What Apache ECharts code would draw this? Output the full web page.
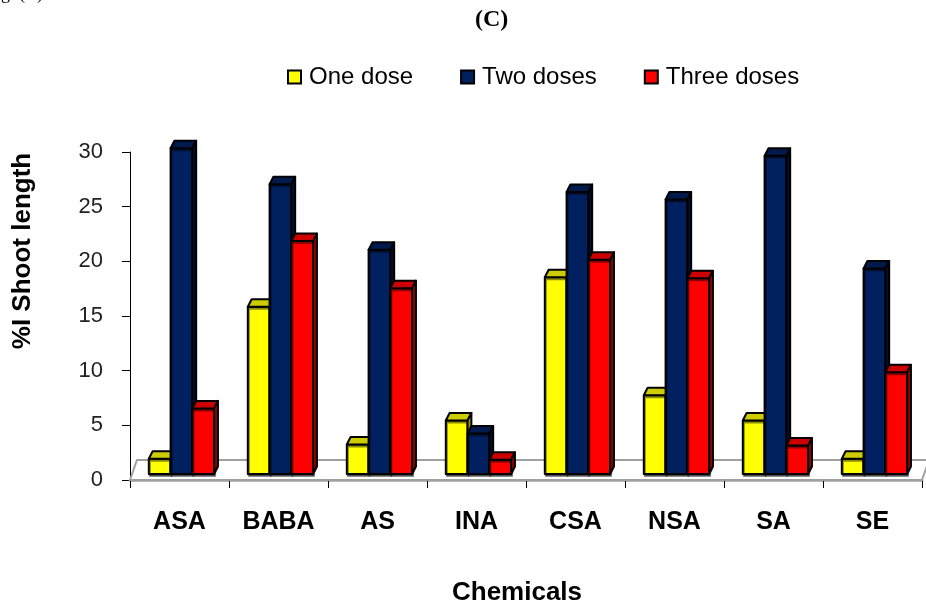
<!DOCTYPE html>
<html>
<head>
<meta charset="utf-8">
<script src="https://cdn.jsdelivr.net/npm/echarts@6/dist/echarts.min.js"></script>
<style>
  html, body { margin: 0; padding: 0; background: #fff; }
  #shoot_chart { width: 926px; height: 611px; }
</style>
</head>
<body>
<div id="shoot_chart"></div>
<script>
var chemicals = ['ASA', 'BABA', 'AS', 'INA', 'CSA', 'NSA', 'SA', 'SE'];
var oneDose = [1.4, 15.3, 2.7, 4.9, 18.0, 7.2, 4.9, 1.4];
var twoDoses = [29.8, 26.5, 20.5, 3.7, 25.8, 25.1, 29.1, 18.8];
var threeDoses = [6.0, 21.3, 17.0, 1.3, 19.6, 17.9, 2.6, 9.3];
var seriesNames = ['One dose', 'Two doses', 'Three doses'];

// fake 3d column, like the old excel charts
var makeBar = function (slot, front, top, side) {
  return function (params, api) {
    var idx = api.value(0);
    var base = api.coord([idx, 0]);
    var peak = api.coord([idx, api.value(1)]);
    var band = api.size([1, 0])[0];
    var w = band * 0.22;
    var x = base[0] + band * (-0.31 + slot * 0.22);
    var lift = 6, dx = 3.8, dy = 7.5;
    var b = base[1] - lift, t = peak[1] - lift;
    var edge = { stroke: '#000', lineWidth: 2, lineJoin: 'round' };
    return {
      type: 'group',
      children: [{
        type: 'rect',
        shape: { x: x, y: t, width: w, height: b - t },
        style: Object.assign({ fill: front, shadowColor: 'rgba(0,0,0,0.45)', shadowOffsetX: 1, shadowOffsetY: 2 }, edge)
      }, {
        type: 'polygon',
        shape: { points: [[x, t], [x + dx, t - dy], [x + w + dx, t - dy], [x + w, t]] },
        style: Object.assign({ fill: top }, edge)
      }, {
        type: 'polygon',
        shape: { points: [[x + w, t], [x + w + dx, t - dy], [x + w + dx, b - dy], [x + w, b]] },
        style: Object.assign({ fill: side }, edge)
      }]
    };
  };
};

var pairs = function (vals) {
  return vals.map(function (v, i) { return [i, v]; });
};

var floorRender = function (params, api) {
  var cs = params.coordSys;
  var y0 = cs.y + cs.height;
  return {
    type: 'polygon',
    silent: true,
    shape: { points: [[cs.x, y0], [cs.x + 7, y0 - 20], [cs.x + cs.width + 7, y0 - 20], [cs.x + cs.width, y0]] },
    style: { fill: 'none', stroke: '#a0a0a0', lineWidth: 2 }
  };
};

var myChart = echarts.init(document.getElementById('shoot_chart'));
var option = {
  animation: false,
  textStyle: { fontFamily: '"Liberation Sans", Arial, sans-serif' },
  graphic: [{
    type: 'text', x: -14, y: -15,
    style: { text: 'Fig. (C)', font: '18px "Liberation Serif"', fill: '#000' }
  }, {
    type: 'text', x: 475, y: 8,
    style: { text: '(C)', font: 'bold 24px "Liberation Serif"', fill: '#000' }
  }, {
    type: 'text', x: 23, y: 251, rotation: Math.PI / 2,
    style: { text: '%I Shoot length', font: 'bold 26px "Liberation Sans"', fill: '#000', align: 'center', verticalAlign: 'middle' }
  }],
  legend: {
    data: seriesNames,
    left: 282,
    top: 60,
    icon: 'rect',
    itemWidth: 13,
    itemHeight: 13,
    itemGap: 47,
    itemStyle: { borderColor: '#000', borderWidth: 2 },
    textStyle: { fontSize: 24, color: '#000', padding: [0, 0, 0, 3] }
  },
  grid: { left: 130, right: 4, top: 152, bottom: 131, containLabel: false },
  xAxis: [{
    type: 'category',
    data: chemicals,
    name: 'Chemicals',
    nameLocation: 'middle',
    nameGap: 100,
    nameTextStyle: { fontSize: 26, fontWeight: 'bold', color: '#000', padding: [0, 18, 0, 0] },
    axisLine: { lineStyle: { color: '#a0a0a0', width: 2.5 } },
    axisTick: { show: true, length: 8, lineStyle: { color: '#000' } },
    axisLabel: { interval: 0, margin: 30, fontSize: 25, fontWeight: 'bold', color: '#000' },
    splitLine: { show: false }
  }],
  yAxis: [{
    type: 'value',
    min: 0,
    max: 30,
    interval: 5,
    axisLine: { show: true, lineStyle: { color: '#000', width: 1 } },
    axisTick: { show: true, length: 8, lineStyle: { color: '#000' } },
    axisLabel: { margin: 27, fontSize: 22, color: '#222' },
    splitLine: { show: false }
  }],
  series: [{
    name: 'floor', type: 'custom', silent: true, z: 1,
    data: [[0, 0]],
    renderItem: floorRender
  }, {
    name: seriesNames[0], type: 'custom', z: 2,
    itemStyle: { color: '#FFFF00' },
    data: pairs(oneDose),
    renderItem: makeBar(0, '#FFFF00', '#CCCC00', '#9E9E00')
  }, {
    name: seriesNames[1], type: 'custom', z: 2,
    itemStyle: { color: '#002060' },
    data: pairs(twoDoses),
    renderItem: makeBar(1, '#002060', '#001A4E', '#000F30')
  }, {
    name: seriesNames[2], type: 'custom', z: 2,
    itemStyle: { color: '#FF0000' },
    data: pairs(threeDoses),
    renderItem: makeBar(2, '#FF0000', '#CC0000', '#990000')
  }]
};
myChart.setOption(option);
</script>
</body>
</html>
